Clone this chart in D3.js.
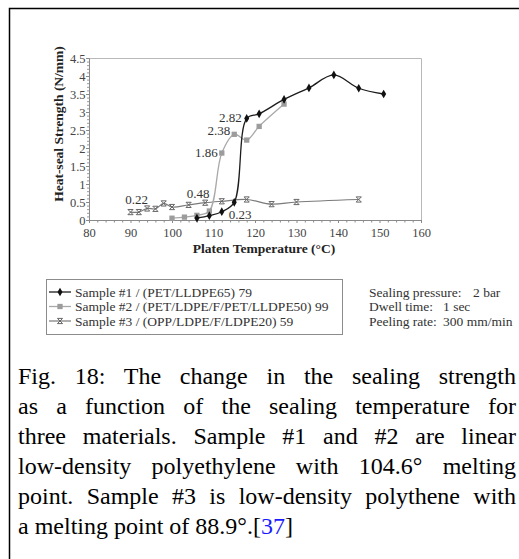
<!DOCTYPE html>
<html>
<head>
<meta charset="utf-8">
<script src="https://cdn.jsdelivr.net/npm/d3@7"></script>
<style>
  html, body { margin: 0; padding: 0; background: #fff; }
  svg { display: block; }
  text { font-family: "Liberation Serif", "Times New Roman", serif; }
</style>
</head>
<body>
<svg id="chart" width="519" height="559"></svg>
<script>
// ---------------- data ----------------
const s1Temp = [106, 109, 112, 115, 118, 121, 127, 133, 139, 145, 151];
const s1Val  = [0.05, 0.12, 0.23, 0.49, 2.82, 2.95, 3.35, 3.67, 4.03, 3.66, 3.50];
const s2Temp = [100, 103, 106, 109, 112, 115, 118, 121, 127];
const s2Val  = [0.05, 0.08, 0.13, 0.25, 1.86, 2.38, 2.22, 2.60, 3.22];
const s3Temp = [90, 92, 94, 96, 98, 100, 104, 108, 112, 118, 124, 130, 145];
const s3Val  = [0.22, 0.22, 0.32, 0.31, 0.46, 0.36, 0.42, 0.48, 0.52, 0.57, 0.44, 0.50, 0.57];
const seriesNames = ["Sample #1 / (PET/LLDPE65) 79",
                     "Sample #2 / (PET/LDPE/F/PET/LLDPE50) 99",
                     "Sample #3 / (OPP/LDPE/F/LDPE20) 59"];
const xTicks = [80, 90, 100, 110, 120, 130, 140, 150, 160];
const yTicks = [0, 0.5, 1, 1.5, 2, 2.5, 3, 3.5, 4, 4.5];
const yTickLabels = ["0", "0.5", "1", "1.5", "2", "2.5", "3", "3.5", "4", "4.5"];
// data labels: [series index, point index, text]
const dataLabels = [
  [2, 0, "0.22"], [2, 7, "0.48"], [0, 2, "0.23"],
  [1, 4, "1.86"], [1, 5, "2.38"], [0, 4, "2.82"]
];
const notesLabel = ["Sealing pressure:", "Dwell time:", "Peeling rate:"];
const notesValue = ["2 bar", "1 sec", "300 mm/min"];
const captionLines = [
  "Fig. 18: The change in the sealing strength",
  "as a function of the sealing temperature for",
  "three materials. Sample #1 and #2 are linear",
  "low-density polyethylene with 104.6\u00B0 melting",
  "point. Sample #3 is low-density polythene with"
];
const captionLast = ["a melting point of 88.9\u00B0.[", "37", "]"];

// ---------------- layout ----------------
const svg = d3.select("#chart");
const X0 = 89, X1 = 421, Y0 = 220, Y1 = 58;
const x = d3.scaleLinear().domain([80, 160]).range([X0, X1]);
const y = d3.scaleLinear().domain([0, 4.5]).range([Y0, Y1]);

// outer figure frame (top + left)
svg.append("path").attr("d", "M9.5,559 L9.5,8.5 L519,8.5")
  .attr("fill", "none").attr("stroke", "#000").attr("stroke-width", 1.5);

// plot frame
svg.append("path").attr("d", `M${X0},${Y1 + 0.5} L${X1 + 0.5},${Y1 + 0.5} L${X1 + 0.5},${Y0}`)
  .attr("fill", "none").attr("stroke", "#b8b8b8").attr("stroke-width", 1);

// axes
const xAxis = d3.axisBottom(x).tickValues(xTicks).tickSize(3).tickFormat(d3.format("d"));
const gx = svg.append("g").attr("transform", `translate(0,${Y0})`).call(xAxis);
gx.attr("font-family", null);
gx.select(".domain").attr("stroke", "#8a8a8a");
gx.selectAll(".tick line").attr("stroke", "#8a8a8a");
gx.selectAll(".tick text").attr("font-size", 12.5)
  .attr("fill", "#444").attr("dy", "0.9em");
const xMinor = d3.range(80, 161, 2).filter(v => v % 10 !== 0);
svg.append("g").selectAll("line").data(xMinor).join("line")
  .attr("x1", d => x(d) + 0.5).attr("x2", d => x(d) + 0.5)
  .attr("y1", Y0).attr("y2", Y0 + 2.5).attr("stroke", "#8a8a8a");

const yAxis = d3.axisLeft(y).tickValues(yTicks).tickSize(3)
  .tickFormat((d, i) => yTickLabels[i]);
const gy = svg.append("g").attr("transform", `translate(${X0},0)`).call(yAxis);
gy.attr("font-family", null);
gy.select(".domain").attr("stroke", "#8a8a8a");
gy.selectAll(".tick line").attr("stroke", "#8a8a8a");
gy.selectAll(".tick text").attr("font-size", 12.5)
  .attr("fill", "#444").attr("x", -3.5);
const yMinor = d3.range(0, 4.51, 0.1).filter(v => Math.abs(v * 2 - Math.round(v * 2)) > 1e-6);
svg.append("g").selectAll("line").data(yMinor).join("line")
  .attr("x1", X0 - 2).attr("x2", X0)
  .attr("y1", d => y(d) + 0.5).attr("y2", d => y(d) + 0.5).attr("stroke", "#9a9a9a");

// axis titles
svg.append("text").attr("x", 264).attr("y", 253).attr("text-anchor", "middle")
  .attr("font-weight", "bold").attr("font-size", 13.5).attr("fill", "#222")
  .text("Platen Temperature (\u00B0C)");
svg.append("text").attr("transform", "translate(63,124) rotate(-90)").attr("text-anchor", "middle")
  .attr("font-weight", "bold").attr("font-size", 13.5).attr("fill", "#222")
  .text("Heat-seal Strength (N/mm)");

// series
const series = [
  { t: s1Temp, v: s1Val, color: "#1c1c1c", mcolor: "#111", marker: "diamond", w: 1.3 },
  { t: s2Temp, v: s2Val, color: "#a9a9a9", mcolor: "#9c9c9c", marker: "square", w: 1.3 },
  { t: s3Temp, v: s3Val, color: "#7a7a7a", mcolor: "#666", marker: "star", w: 1.2 }
];
const line = d3.line().x(d => x(d[0])).y(d => y(d[1])).curve(d3.curveCatmullRom.alpha(0.5));

function drawMarker(g, type, cx, cy, color) {
  if (type === "diamond") {
    g.append("path").attr("d", d3.symbol(d3.symbolDiamond, 22)())
      .attr("transform", `translate(${cx},${cy})`).attr("fill", color);
  } else if (type === "square") {
    g.append("path").attr("d", d3.symbol(d3.symbolSquare, 28)())
      .attr("transform", `translate(${cx},${cy})`).attr("fill", color);
  } else {
    const r = 2.6;
    g.append("path")
      .attr("d", `M${-r},${-r}L${r},${r}M${-r},${r}L${r},${-r}M${-r},${-r}L${r},${-r}M${-r},${r}L${r},${r}`)
      .attr("transform", `translate(${cx},${cy})`).attr("stroke", color)
      .attr("stroke-width", 1).attr("fill", "none");
  }
}

const gS = svg.append("g");
// draw in order 3, 2, 1 so that sample #1 is on top
[2, 1, 0].forEach(si => {
  const s = series[si];
  const pts = s.t.map((t, i) => [t, s.v[i]]);
  gS.append("path").attr("d", line(pts)).attr("fill", "none")
    .attr("stroke", s.color).attr("stroke-width", s.w);
  const gm = gS.append("g");
  pts.forEach(p => drawMarker(gm, s.marker, x(p[0]), y(p[1]), s.mcolor));
});

// data labels
const labelStyle = [
  { dx: 6, dy: -8, anchor: "middle" },   // 0.22
  { dx: -7, dy: -5, anchor: "middle" },  // 0.48
  { dx: 7, dy: 7, anchor: "start" },     // 0.23
  { dx: -4, dy: 4, anchor: "end" },      // 1.86
  { dx: -4, dy: 1, anchor: "end" },      // 2.38
  { dx: -5, dy: 4, anchor: "end" }       // 2.82
];
const seriesArr = [[s1Temp, s1Val], [s2Temp, s2Val], [s3Temp, s3Val]];
dataLabels.forEach((dl, i) => {
  const [si, pi, txt] = dl;
  const st = labelStyle[i];
  svg.append("text")
    .attr("x", x(seriesArr[si][0][pi]) + st.dx)
    .attr("y", y(seriesArr[si][1][pi]) + st.dy)
    .attr("text-anchor", st.anchor).attr("font-size", 13).attr("fill", "#333")
    .text(txt);
});

// legend box
const gl = svg.append("g");
gl.append("rect").attr("x", 46.5).attr("y", 279.5).attr("width", 296).attr("height", 55)
  .attr("fill", "#fff").attr("stroke", "#8c8c8c").attr("stroke-width", 1);
seriesNames.forEach((name, i) => {
  const cy = 292 + i * 14.5;
  gl.append("line").attr("x1", 49).attr("x2", 71).attr("y1", cy).attr("y2", cy)
    .attr("stroke", series[i].color).attr("stroke-width", series[i].w);
  drawMarker(gl, series[i].marker, 60, cy, series[i].mcolor);
  gl.append("text").attr("x", 75).attr("y", cy + 4.5).attr("font-size", 13.5)
    .attr("fill", "#333").text(name);
});

// notes
notesLabel.forEach((lab, i) => {
  const by = 296.5 + i * 14.5;
  svg.append("text").attr("x", 369).attr("y", by).attr("font-size", 13.5).attr("fill", "#333").text(lab);
});
const notesX = [473, 443, 443];
notesValue.forEach((v, i) => {
  const by = 296.5 + i * 14.5;
  svg.append("text").attr("x", notesX[i]).attr("y", by).attr("font-size", 13.5).attr("fill", "#333").text(v);
});

// caption (justified)
const capLeft = 18, capRight = 516, capSize = 24, capTop = 384, capLH = 30;
captionLines.forEach((ln, i) => {
  const t = svg.append("text").attr("x", capLeft).attr("y", capTop + i * capLH)
    .attr("font-size", capSize).attr("fill", "#000").text(ln);
  const w = t.node().getComputedTextLength();
  const nSp = (ln.match(/ /g) || []).length;
  if (nSp > 0) t.style("word-spacing", ((capRight - capLeft - w) / nSp) + "px");
});
const last = svg.append("text").attr("x", capLeft).attr("y", capTop + 5 * capLH)
  .attr("font-size", capSize).attr("fill", "#000");
last.append("tspan").text(captionLast[0]);
last.append("tspan").attr("fill", "#1a1aff").text(captionLast[1]);
last.append("tspan").text(captionLast[2]);
</script>
</body>
</html>
